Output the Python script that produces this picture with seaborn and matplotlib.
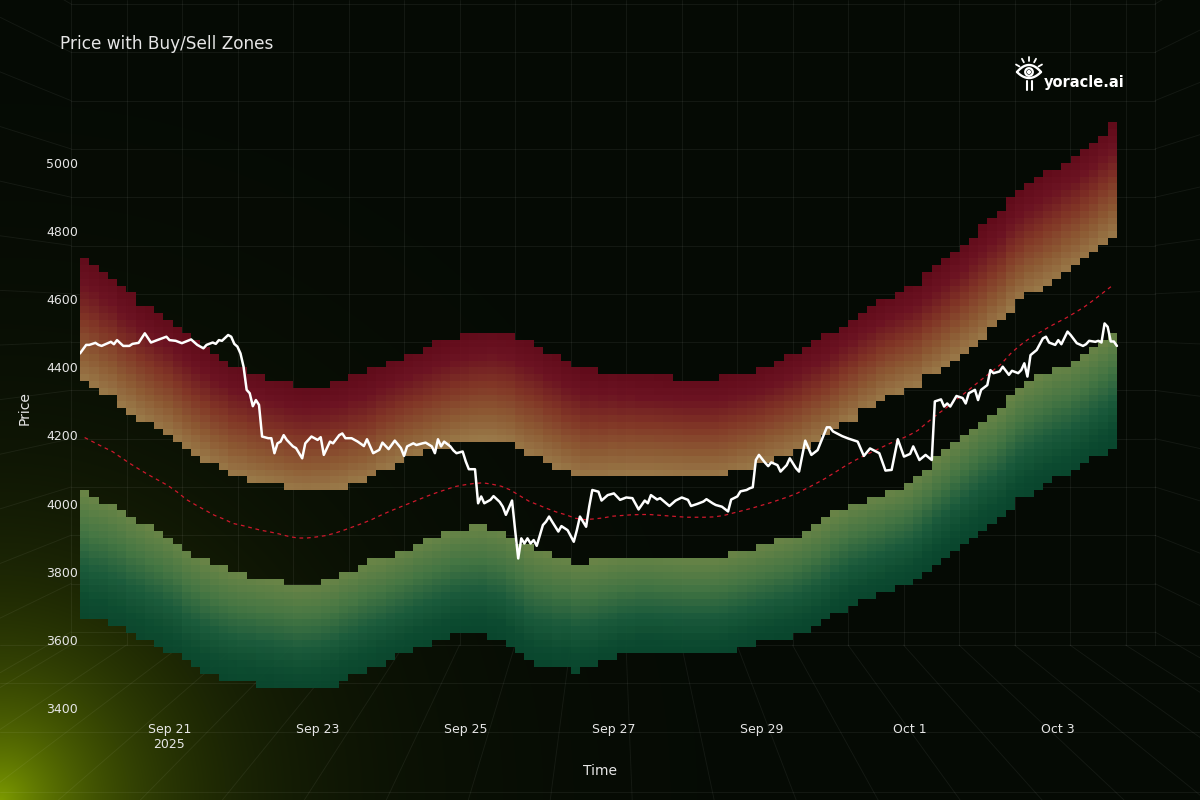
import numpy as np
import pandas as pd
import matplotlib
matplotlib.use("Agg")
import matplotlib.pyplot as plt
import matplotlib.dates as mdates
from matplotlib.colors import LinearSegmentedColormap
from matplotlib.patches import Circle
import seaborn as sns

sns.set_theme(style="dark")
plt.rcParams["font.family"] = ["DejaVu Sans"]

# ---- data ----
START = pd.Timestamp("2025-09-19 19:00")

# price: hours after START and value
price_hours = [
    0, 2, 3, 5, 6, 7, 9, 10, 11, 12, 14, 16, 17, 19, 21, 23, 25, 28, 29, 31,
    33, 36, 38, 40, 41, 43, 44, 45, 46, 48, 49, 50, 51, 52, 53, 54, 55, 56, 57, 58,
    59, 61, 62, 63, 64, 65, 66, 67, 69, 70, 72, 73, 75, 77, 78, 79, 81, 82, 84, 85,
    86, 88, 90, 92, 93, 95, 96, 97, 98, 100, 102, 104, 105, 106, 108, 109, 111, 112, 114, 115,
    116, 117, 118, 120, 121, 122, 124, 125, 126, 128, 129, 130, 131, 133, 134, 136, 137, 138, 140, 141,
    142, 143, 144, 145, 146, 147, 148, 150, 151, 152, 153, 155, 156, 158, 160, 161, 162, 164, 165, 166,
    168, 169, 171, 173, 175, 177, 179, 181, 183, 184, 185, 187, 188, 191, 193, 195, 197, 198, 200, 202,
    203, 205, 206, 208, 210, 211, 213, 214, 216, 217, 218, 219, 220, 222, 223, 224, 226, 227, 229, 230,
    232, 233, 235, 237, 239, 242, 243, 244, 247, 249, 252, 254, 256, 259, 261, 263, 265, 267, 269, 270,
    272, 274, 276, 277, 279, 280, 281, 282, 284, 286, 287, 288, 290, 291, 292, 294, 295, 296, 298, 299,
    301, 302, 304, 305, 306, 307, 308, 310, 312, 313, 314, 316, 317, 318, 320, 321, 323, 325, 326, 327,
    329, 330, 331, 332, 333, 334, 335, 336,
]
price_values = [
    4441, 4466, 4466, 4472, 4466, 4463, 4471, 4475, 4468, 4480, 4463, 4463, 4469, 4472, 4500, 4473, 4480, 4490, 4480, 4478,
    4471, 4482, 4466, 4456, 4466, 4473, 4469, 4480, 4478, 4495, 4490, 4469, 4461, 4441, 4402, 4334, 4324, 4286, 4304, 4290,
    4197, 4192, 4192, 4148, 4177, 4182, 4201, 4187, 4168, 4163, 4133, 4177, 4197, 4187, 4195, 4143, 4182, 4177, 4201, 4206,
    4192, 4192, 4182, 4169, 4189, 4148, 4153, 4158, 4179, 4160, 4185, 4163, 4140, 4168, 4177, 4172, 4177, 4179, 4168, 4148,
    4189, 4168, 4182, 4168, 4156, 4148, 4153, 4124, 4101, 4101, 4001, 4021, 4001, 4011, 4022, 4005, 3991, 3967, 4009, 3922,
    3839, 3898, 3883, 3898, 3883, 3893, 3876, 3937, 3947, 3962, 3947, 3918, 3934, 3922, 3888, 3922, 3962, 3932, 3991, 4040,
    4035, 4009, 4025, 4030, 4011, 4018, 4016, 3983, 4009, 4001, 4025, 4012, 4016, 3993, 4009, 4018, 4011, 3993, 3999, 4006,
    4013, 4001, 3996, 3991, 3977, 4012, 4021, 4036, 4040, 4045, 4048, 4128, 4143, 4120, 4110, 4121, 4113, 4094, 4113, 4133,
    4104, 4094, 4185, 4143, 4157, 4224, 4224, 4212, 4198, 4191, 4182, 4140, 4162, 4148, 4097, 4099, 4189, 4138, 4146, 4168,
    4128, 4143, 4128, 4300, 4306, 4285, 4294, 4285, 4316, 4310, 4294, 4324, 4334, 4304, 4334, 4348, 4392, 4383, 4388, 4402,
    4378, 4390, 4383, 4392, 4412, 4373, 4436, 4451, 4485, 4490, 4473, 4466, 4480, 4468, 4505, 4495, 4471, 4463, 4468, 4478,
    4475, 4478, 4473, 4529, 4519, 4476, 4476, 4463,
]

# zone centre (the dashed red line), one value per 3-hour column
zone_center = [
    4194, 4180, 4166, 4153, 4134, 4116, 4099, 4083, 4068, 4053,
    4034, 4012, 3996, 3981, 3966, 3955, 3942, 3936, 3929, 3922,
    3917, 3911, 3904, 3899, 3899, 3902, 3906, 3913, 3922, 3932,
    3942, 3953, 3966, 3978, 3989, 4000, 4011, 4022, 4032, 4041,
    4050, 4055, 4059, 4061, 4057, 4051, 4040, 4023, 4007, 3996,
    3985, 3975, 3967, 3957, 3953, 3955, 3958, 3963, 3965, 3967,
    3968, 3968, 3966, 3964, 3962, 3960, 3960, 3960, 3961, 3965,
    3972, 3979, 3986, 3994, 4002, 4011, 4020, 4031, 4045, 4059,
    4074, 4091, 4108, 4124, 4138, 4151, 4164, 4177, 4188, 4200,
    4215, 4238, 4260, 4280, 4302, 4323, 4345, 4367, 4388, 4410,
    4440, 4464, 4484, 4500, 4516, 4531, 4545, 4561, 4578, 4598,
    4619, 4640,
]

# distance from centre to the inner / outer edge of the zones, per 6-hour block
inner_width = [
    162, 158, 154, 151, 149, 148, 147, 145, 143, 141,
    140, 139, 136, 132, 127, 123, 130, 131, 129, 128,
    127, 128, 131, 134, 137, 133, 128, 124, 122, 120,
    119, 120, 120, 120, 120, 120, 120, 121, 122, 122,
    121, 125, 133, 140, 141, 134, 127, 122, 118, 125,
    129, 129, 130, 138, 142, 144,
]
outer_width = [
    524, 512, 500, 490, 484, 478, 474, 468, 462, 456,
    451, 448, 446, 443, 440, 437, 438, 438, 438, 439,
    439, 443, 452, 462, 469, 460, 448, 437, 425, 414,
    407, 406, 406, 406, 406, 405, 403, 407, 412, 417,
    418, 421, 426, 430, 432, 432, 432, 436, 443, 447,
    450, 454, 458, 462, 466, 470,
]

tick_days = ["2025-09-21", "2025-09-23", "2025-09-25", "2025-09-27",
             "2025-09-29", "2025-10-01", "2025-10-03"]
tick_labels = ["Sep 21\n2025", "Sep 23", "Sep 25", "Sep 27", "Sep 29", "Oct 1", "Oct 3"]
price_ticks = [3400, 3600, 3800, 4000, 4200, 4400, 4600, 4800, 5000]

TEXT = "#e6e6e6"
BG = "#050a05"

# ---- build the zone grid ----
n_cols = len(zone_center)
col_edges = START + pd.to_timedelta(np.arange(n_cols + 1) * 3, unit="h")
col_mid = START + pd.to_timedelta(np.arange(n_cols) * 3 + 1.5, unit="h")
level_edges = np.arange(3300, 5241, 20)
level_mid = (level_edges[:-1] + level_edges[1:]) / 2

center = np.array(zone_center, dtype=float)
inner = np.repeat(inner_width, 2).astype(float)
outer = np.repeat(outer_width, 2).astype(float)
dist = level_mid[:, None] - center[None, :]
frac = (np.abs(dist) - inner) / (outer - inner)
inside = (frac >= 0) & (frac <= 1)
sell = np.ma.masked_where(~(inside & (dist > 0)), frac)
buy = np.ma.masked_where(~(inside & (dist < 0)), frac)

sell_cmap = LinearSegmentedColormap.from_list(
    "sell", [(0.0, "#a3804d"), (0.25, "#955e36"), (0.5, "#8a3a29"),
             (0.78, "#731424"), (1.0, "#680c1c")])
buy_cmap = LinearSegmentedColormap.from_list(
    "buy", [(0.0, "#6f8c4b"), (0.3, "#4a7d48"), (0.6, "#1d603f"),
            (0.85, "#0d4f33"), (1.0, "#0a4a30")])

fig = plt.figure(figsize=(12, 8), dpi=100, facecolor=BG)

# ---- background: glow + perspective grid + logo (pixel coords) ----
bg = fig.add_axes([0, 0, 1, 1])
bg.set_xlim(0, 1200)
bg.set_ylim(800, 0)
bg.axis("off")
yy, xx = np.mgrid[0:800, 0:1200]
glow = np.exp(-np.hypot(xx, 800 - yy) / 140.0)[..., None]
base = np.array([5, 10, 5]) / 255
glow_col = np.array([125, 155, 0]) / 255
bg.imshow(base + (glow_col - base) * glow, extent=(0, 1200, 800, 0), aspect="auto")

grid_kw = dict(color="white", alpha=0.06, lw=0.7)
vp_x, vp_y = 613, 320
wall_x = 71 + 55.5 * np.arange(20)
wall_y = 4 + 48.3 * np.arange(14)
for x in wall_x:
    bg.plot([x, x], [0, 645], **grid_kw)
    xb = vp_x + (x - vp_x) * (800 - vp_y) / (645 - vp_y)
    bg.plot([x, xb], [645, 800], **grid_kw)
for y in wall_y:
    bg.plot([71, 1155], [y, y], **grid_kw)
    yl = vp_y + (y - vp_y) * vp_x / (vp_x - 71)
    bg.plot([0, 71], [yl, y], **grid_kw)
    yr = vp_y + (y - vp_y) * (1200 - vp_x) / (1155 - vp_x)
    bg.plot([1155, 1200], [y, yr], **grid_kw)
bg.plot([1155, 1155], [0, 645], **grid_kw)
for y in [645, 683, 732, 792]:
    bg.plot([0, 1200], [y, y], **grid_kw)

# logo
ex, ey = 1029, 72
u = np.linspace(-1, 1, 60)
bg.plot(ex + 12 * u, ey - 7 * (1 - u ** 2), color="white", lw=1.7, solid_capstyle="round")
bg.plot(ex + 12 * u, ey + 6 * (1 - u ** 2), color="white", lw=1.7, solid_capstyle="round")
bg.add_patch(Circle((ex, ey), 3.8, fill=False, ec="white", lw=1.6))
bg.add_patch(Circle((ex, ey), 1.4, color="white"))
for ang in [150, 118, 90, 62, 30]:
    a = np.deg2rad(ang)
    bg.plot([ex + 11 * np.cos(a), ex + 15 * np.cos(a)],
            [ey - 11 * np.sin(a), ey - 15 * np.sin(a)], color="white", lw=1.3)
for x in [ex - 2.5, ex + 2.5]:
    bg.plot([x, x], [81, 90], color="white", lw=1.5)
bg.text(1044, 87, "yoracle.ai", color="white", fontsize=10.5, fontweight="bold",
        ha="left", va="baseline")

# ---- main chart ----
ax = fig.add_axes([80 / 1200, 1 - 717 / 800, 1040 / 1200, 617 / 800])
ax.set_facecolor("none")

x_edges = mdates.date2num(col_edges)
ax.pcolormesh(x_edges, level_edges, sell, cmap=sell_cmap, vmin=0, vmax=1,
              alpha=0.94, shading="flat", zorder=1)
ax.pcolormesh(x_edges, level_edges, buy, cmap=buy_cmap, vmin=0, vmax=1,
              alpha=0.94, shading="flat", zorder=1)

price_df = pd.DataFrame({
    "time": START + pd.to_timedelta(np.array(price_hours, dtype=float), unit="h"),
    "price": price_values,
})
mid_df = pd.DataFrame({"time": col_mid, "center": zone_center})

sns.lineplot(data=mid_df, x="time", y="center", ax=ax, color="#d0182c",
             lw=0.9, linestyle=(0, (3, 3)), zorder=3)
sns.lineplot(data=price_df, x="time", y="price", ax=ax, color="white",
             lw=1.8, zorder=4)

ax.set_xlim(mdates.date2num(START), mdates.date2num(START + pd.Timedelta(hours=337)))
ax.set_ylim(3373.5, 5185)
ax.set_xticks(mdates.date2num(pd.to_datetime(tick_days)))
ax.set_xticklabels(tick_labels)
ax.set_yticks(price_ticks)
ax.set_yticklabels([str(p) for p in price_ticks])
ax.tick_params(axis="both", colors=TEXT, labelsize=9, length=0)
ax.tick_params(axis="y", pad=1.5)
ax.tick_params(axis="x", pad=4)
ax.set_xlabel("")
ax.set_ylabel("")
ax.grid(False)
for s in ax.spines.values():
    s.set_visible(False)

fig.text(60 / 1200, 1 - 44 / 800, "Price with Buy/Sell Zones", color=TEXT,
         fontsize=12.2, ha="left", va="center")
fig.text(25 / 1200, 1 - 408 / 800, "Price", color=TEXT, fontsize=10,
         rotation=90, ha="center", va="center")
fig.text(600 / 1200, 1 - 771 / 800, "Time", color=TEXT, fontsize=10,
         ha="center", va="center")

fig.savefig("out.png", dpi=100, facecolor=BG)
